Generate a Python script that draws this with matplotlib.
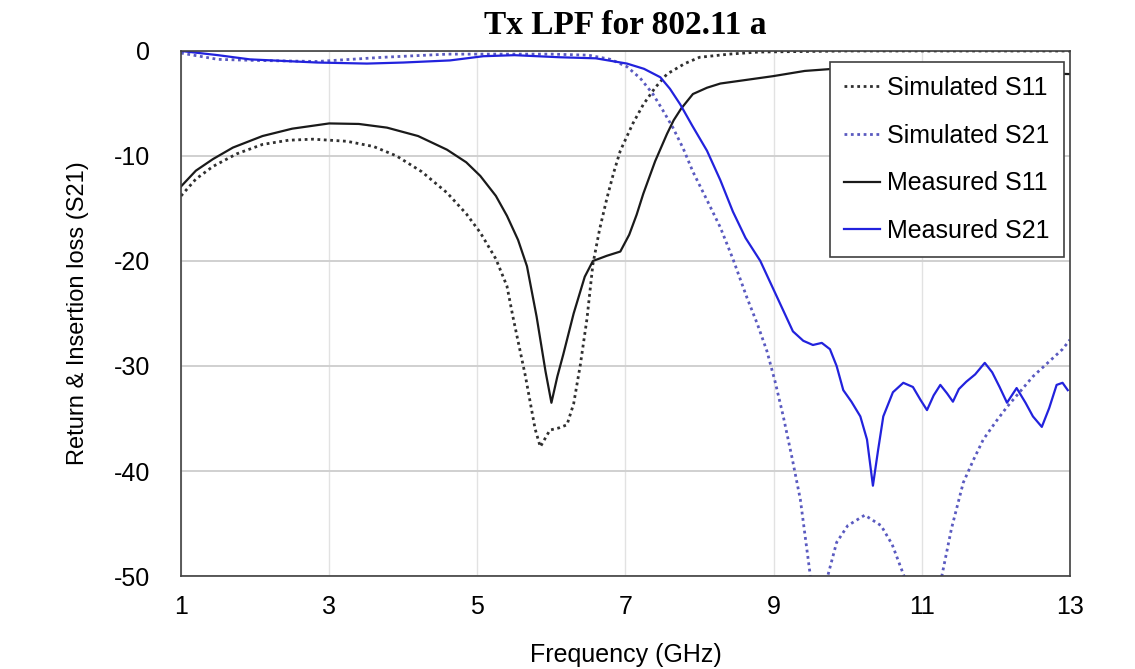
import numpy as np
import matplotlib.pyplot as plt

# Frequency (GHz) / level (dB)
sim_s11_f = [1.0, 1.2, 1.43, 1.75, 2.1, 2.45, 2.78, 3.24, 3.6, 3.91, 4.25, 4.59, 4.85,
             5.04, 5.25, 5.4, 5.48, 5.65, 5.78, 5.85, 5.98, 6.1, 6.21, 6.3, 6.39, 6.48,
             6.56, 6.65, 6.75, 6.84, 6.93, 7.1, 7.24, 7.4, 7.56, 7.8, 8.0, 8.4, 8.8,
             10.0, 13.0]
sim_s11_db = [-13.8, -12.2, -11.0, -9.8, -8.9, -8.5, -8.4, -8.6, -9.1, -10.0, -11.5, -13.5, -15.5,
              -17.3, -19.8, -22.4, -25.3, -31.0, -36.0, -37.7, -36.1, -35.9, -35.6, -33.6, -29.9, -25.5,
              -20.3, -17.0, -14.0, -11.6, -9.5, -6.9, -5.1, -3.5, -2.2, -1.2, -0.6, -0.3, -0.1,
              0.0, 0.0]

sim_s21_f = [1.0, 1.5, 2.0, 2.84, 3.73, 4.6, 5.5, 6.0, 6.5, 6.8, 7.02, 7.2, 7.37, 7.5,
             7.64, 7.78, 7.91, 8.1, 8.28, 8.45, 8.64, 8.78, 8.91, 9.02, 9.13, 9.25, 9.36,
             9.49, 9.6, 9.73, 9.85, 10.0, 10.23, 10.45, 10.6, 10.76, 10.95, 11.27, 11.4,
             11.56, 11.7, 11.83, 12.0, 12.15, 12.5, 12.9, 13.0]
sim_s21_db = [-0.2, -0.8, -0.9, -1.0, -0.6, -0.3, -0.3, -0.3, -0.4, -0.8, -1.5, -2.6, -4.1, -5.6,
              -7.3, -9.3, -11.5, -14.2, -16.8, -19.8, -23.5, -26.0, -28.6, -31.5, -34.8, -38.8, -42.7,
              -49.7, -60.0, -50.0, -46.8, -45.2, -44.2, -45.2, -47.0, -50.0, -60.0, -50.0, -45.5,
              -41.1, -38.9, -37.0, -35.3, -33.9, -31.0, -28.4, -27.5]

meas_s11_f = [1.0, 1.2, 1.43, 1.7, 2.1, 2.5, 3.0, 3.4, 3.78, 4.2, 4.59, 4.85, 5.04, 5.25,
              5.4, 5.55, 5.67, 5.8, 5.92, 6.0, 6.08, 6.16, 6.3, 6.45, 6.56, 6.75, 6.93,
              7.05, 7.15, 7.24, 7.4, 7.56, 7.65, 7.75, 7.91, 8.1, 8.28, 8.99, 9.42, 10.0,
              11.0, 12.0, 13.0]
meas_s11_db = [-12.9, -11.4, -10.3, -9.2, -8.1, -7.4, -6.9, -6.95, -7.3, -8.1, -9.4, -10.6, -11.9, -13.8,
               -15.7, -18.0, -20.5, -25.3, -30.5, -33.5, -31.0, -28.9, -25.0, -21.5, -20.0, -19.5, -19.1,
               -17.5, -15.6, -13.6, -10.5, -7.9, -6.6, -5.5, -4.1, -3.5, -3.1, -2.4, -1.9, -1.6,
               -1.8, -2.0, -2.2]

meas_s21_f = [1.0, 1.5, 1.93, 2.84, 3.51, 4.0, 4.63, 5.08, 5.5, 6.12, 6.6, 7.02, 7.25,
              7.47, 7.6, 7.74, 7.9, 8.1, 8.28, 8.45, 8.62, 8.82, 9.05, 9.26, 9.4, 9.53,
              9.65, 9.76, 9.85, 9.94, 10.05, 10.17, 10.26, 10.34, 10.41, 10.48, 10.61, 10.75,
              10.88, 10.98, 11.07, 11.16, 11.25, 11.34, 11.42, 11.5, 11.6, 11.72, 11.85, 11.95,
              12.05, 12.15, 12.28, 12.4, 12.5, 12.62, 12.72, 12.82, 12.9, 12.97]
meas_s21_db = [0.0, -0.4, -0.8, -1.1, -1.2, -1.1, -0.9, -0.5, -0.4, -0.6, -0.7, -1.2, -1.7,
               -2.5, -3.6, -5.1, -7.1, -9.5, -12.3, -15.3, -17.8, -20.0, -23.5, -26.7, -27.6, -28.0,
               -27.8, -28.4, -30.0, -32.3, -33.4, -34.8, -37.0, -41.4, -38.0, -34.8, -32.5, -31.6,
               -32.0, -33.2, -34.2, -32.8, -31.8, -32.6, -33.4, -32.2, -31.5, -30.8, -29.7, -30.6,
               -32.0, -33.5, -32.1, -33.5, -34.8, -35.8, -34.0, -31.8, -31.6, -32.3]

x_ticks = [1, 3, 5, 7, 9, 11, 13]
y_ticks = [0, -10, -20, -30, -40, -50]

plt.rcParams['font.family'] = ['Liberation Sans', 'DejaVu Sans']
plt.rcParams['axes.unicode_minus'] = False

fig = plt.figure(figsize=(11.35, 6.69), dpi=100)
ax = fig.add_axes([0.1595, 0.139, 0.7832, 0.7848])

ax.plot(sim_s11_f, sim_s11_db, color='#303030', linestyle=(0, (1, 1.3)), lw=2.0,
        label='Simulated S11')
ax.plot(sim_s21_f, sim_s21_db, color='#5a5ac0', linestyle=(0, (1, 1.3)), lw=2.0,
        label='Simulated S21')
ax.plot(meas_s11_f, meas_s11_db, color='#1a1a1a', lw=1.6, label='Measured S11')
ax.plot(meas_s21_f, meas_s21_db, color='#2222dd', lw=1.6, label='Measured S21')

ax.set_xlim(1, 13)
ax.set_ylim(-50, 0)
ax.set_xticks(x_ticks)
ax.set_yticks(y_ticks)
ax.tick_params(length=0, labelsize=18)
ax.tick_params(axis='y', pad=22)
ax.tick_params(axis='x', pad=14)
ax.grid(True, axis='y', color='#d0d0d0', lw=1.4)
ax.grid(True, axis='x', color='#e2e2e2', lw=1.0)
ax.set_axisbelow(True)
for s in ax.spines.values():
    s.set_color('#404040')
    s.set_linewidth(1.2)

ax.set_xlabel('Frequency (GHz)', fontsize=18, labelpad=17)
ax.set_ylabel('Return & Insertion loss (S21)', fontsize=17, labelpad=18)
ax.set_title('Tx LPF for 802.11 a', fontsize=24, fontweight='bold',
             family=['Liberation Serif', 'DejaVu Serif'], pad=12)

leg = ax.legend(loc='upper right', bbox_to_anchor=(0.993, 0.979), borderaxespad=0,
                fontsize=18, fancybox=False, framealpha=1, edgecolor='#404040',
                handlelength=1.45, handletextpad=0.3, labelspacing=0.95,
                borderpad=0.55)
leg.get_frame().set_linewidth(1.2)

fig.savefig('out.png', dpi=100)
